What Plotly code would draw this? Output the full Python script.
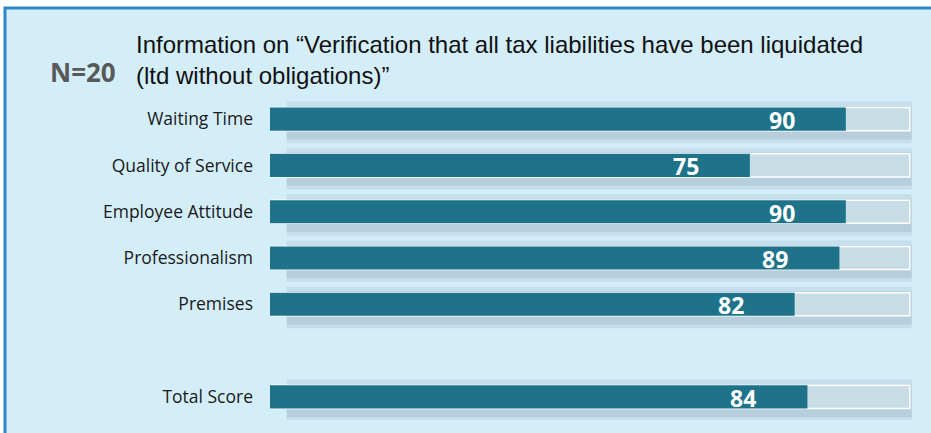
import plotly.graph_objects as go

# Survey results, N=20
categories = ["Waiting Time", "Quality of Service", "Employee Attitude",
              "Professionalism", "Premises", "Total Score"]
scores = [90, 75, 90, 89, 82, 84]
# row slots on the y axis (slot 5 left empty to separate the total)
slots = [0, 1, 2, 3, 4, 6]
max_score = 100

title_lines = ["Information on \u201cVerification that all tax liabilities have been liquidated",
               "(ltd without obligations)\u201d"]
sample_label = "N=20"

BG = "#D3EDF9"
BAR = "#1E738A"
TRACK = "#C8DCE6"
BORDER = "#2F86CB"

W, H = 931, 433
ML, MR, MT, MB = 270, 18, 96, 13
x_max = 100.5
plot_w = W - ML - MR
plot_h = H - MT - MB

fig = go.Figure()

# soft shadow under each track
for w, off, a in [(0.9, -0.38, 0.18), (0.72, -0.28, 0.25)]:
    fig.add_trace(go.Bar(
        y=slots, x=[max_score - 2.3] * len(slots), base=2.6,
        orientation="h", width=w, offset=off,
        marker=dict(color=f"rgba(140,160,175,{a})", line=dict(width=0)),
        hoverinfo="skip", showlegend=False))

# full-scale track
fig.add_trace(go.Bar(
    y=slots, x=[max_score] * len(slots), orientation="h", width=0.5,
    marker=dict(color=TRACK, line=dict(color="white", width=1.5)),
    hoverinfo="skip", showlegend=False))

# score bars
fig.add_trace(go.Bar(
    y=slots, x=scores, orientation="h", width=0.5,
    marker=dict(color=BAR, line=dict(width=0)),
    showlegend=False))

# value labels inside the bars
for s, v in zip(slots, scores):
    fig.add_annotation(x=v - 10, y=s, text=f"<b>{v}</b>", showarrow=False,
                       xanchor="center", yanchor="middle", yshift=-1,
                       font=dict(family="Open Sans", size=23, color="white"))

def px_x(p):
    return (p - ML) / plot_w

def px_y(p):
    return 1 - (p - MT) / plot_h

# panel background with blue top/left border
fig.add_shape(type="rect", xref="paper", yref="paper", layer="below",
              x0=px_x(5), x1=px_x(W + 10), y0=px_y(H + 10), y1=px_y(8),
              fillcolor=BG, line=dict(color=BORDER, width=3))

fig.add_annotation(xref="paper", yref="paper", x=px_x(134), y=px_y(29),
                   xanchor="left", yanchor="top", align="left", showarrow=False,
                   text="<br>".join(title_lines),
                   font=dict(family="Liberation Sans", size=24, color="#111111"))
fig.add_annotation(xref="paper", yref="paper", x=px_x(48), y=px_y(72),
                   xanchor="left", yanchor="middle", showarrow=False,
                   text=f"<b>{sample_label}</b>",
                   font=dict(family="Open Sans", size=26, color="#595959"))

fig.update_layout(
    width=W, height=H,
    margin=dict(l=ML, r=MR, t=MT, b=MB),
    paper_bgcolor="white", plot_bgcolor="rgba(0,0,0,0)",
    barmode="overlay",
    xaxis=dict(range=[0, x_max], visible=False, fixedrange=True),
    yaxis=dict(range=[6.5, -0.5], tickvals=slots, ticktext=categories,
               showgrid=False, zeroline=False, showline=False,
               ticks="", ticklabelstandoff=16,
               tickfont=dict(family="Open Sans", size=17.5, color="#1a1a1a"),
               fixedrange=True),
)

fig.write_html("out.html")
